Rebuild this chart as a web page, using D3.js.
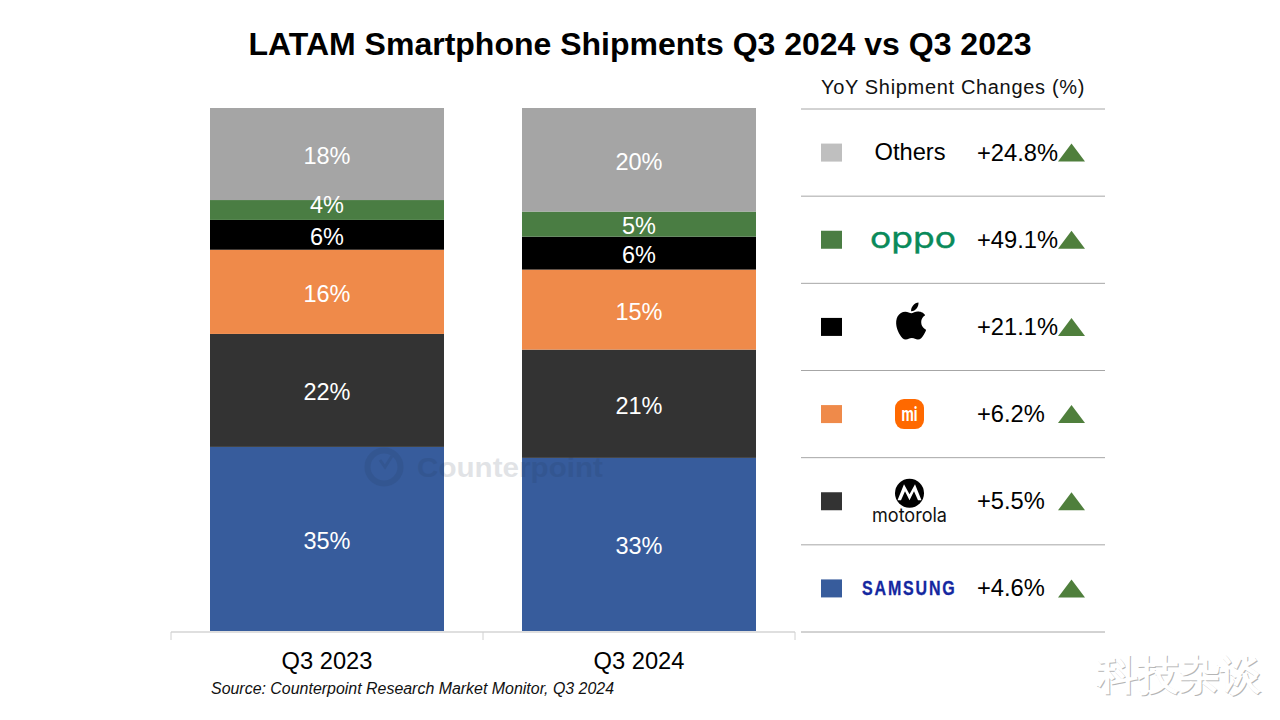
<!DOCTYPE html>
<html>
<head>
<meta charset="utf-8">
<style>
  html, body { margin: 0; background: #fff; }
  svg { display: block; }
  text { font-family: "Liberation Sans", Arial, sans-serif; }
</style>
<script src="https://cdn.jsdelivr.net/npm/d3@7"></script>
</head>
<body>
<svg id="chart" width="1280" height="720"></svg>
<script>
// Data
const quarters = ['Q3 2023', 'Q3 2024'];
const brands = ['Samsung', 'Motorola', 'Xiaomi', 'Apple', 'OPPO', 'Others'];
const share2023 = [35.2, 21.6, 16.1, 5.7, 3.8, 17.6];
const share2024 = [33.1, 20.7, 15.3, 6.3, 4.8, 19.8];
const yoyChanges = ['+4.6%', '+5.5%', '+6.2%', '+21.1%', '+49.1%', '+24.8%'];
const barColors = ['#375C9C', '#333333', '#EF8A4A', '#000000', '#4A7D43', '#A5A5A5'];
const swatchColors = ['#375C9C', '#333333', '#EF8A4A', '#000000', '#4A7D43', '#BFBFBF'];

// Configs
const upColor = '#4F7F3C';
const ruleColor = '#A6A6A6';
const plotTop = 108, plotBottom = 631;
const tableLeft = 801, tableRight = 1105, tableTop = 109, tableBottom = 632;

const svg = d3.select('#chart');

const rows = quarters.map((q, i) => {
  const row = { quarter: q };
  const values = i === 0 ? share2023 : share2024;
  brands.forEach((b, j) => { row[b] = values[j]; });
  return row;
});
const series = d3.stack().keys(brands)(rows);

const x = d3.scaleBand()
  .domain(quarters)
  .range([171, 795])
  .paddingInner(0.25)
  .paddingOuter(0.125);

const y = d3.scaleLinear()
  .domain([0, 100])
  .range([plotBottom, plotTop]);

// Stacked bars
svg.append('g').selectAll('g')
  .data(series)
  .join('g')
  .attr('fill', (d, i) => barColors[i])
  .selectAll('rect')
  .data(d => d)
  .join('rect')
  .attr('x', d => x(d.data.quarter))
  .attr('y', d => y(d[1]))
  .attr('width', x.bandwidth())
  .attr('height', d => y(d[0]) - y(d[1]));

// The thin 4% label sits a little high in the source
const labelShift = (d, key) => (key === 'OPPO' && d.data.quarter === 'Q3 2023') ? -7 : 0;

// Labels go in their own group so the next layer can't paint over them
svg.append('g').selectAll('g')
  .data(series)
  .join('g')
  .each(function(layer) {
    d3.select(this).selectAll('text')
      .data(layer)
      .join('text')
      .attr('x', d => x(d.data.quarter) + x.bandwidth() / 2)
      .attr('y', d => (y(d[0]) + y(d[1])) / 2 + 10 + labelShift(d, layer.key))
      .attr('text-anchor', 'middle')
      .attr('font-size', 23.5)
      .attr('fill', '#fff')
      .text(d => d3.format('.0f')(d[1] - d[0]) + '%');
  });

// Category axis, ticks sit on the band edges
const axis = svg.append('g')
  .attr('transform', `translate(0, ${plotBottom + 1})`)
  .call(d3.axisBottom(x).tickSize(0).tickPadding(20));
axis.select('.domain').attr('stroke', '#BFBFBF').attr('d', 'M171,0H795');
axis.selectAll('.tick text')
  .style('font-family', '"Liberation Sans", Arial, sans-serif')
  .style('font-size', '23.7px')
  .attr('fill', '#000');
axis.selectAll('line.edge')
  .data([171, 171 + x.step(), 171 + 2 * x.step()])
  .join('line')
  .attr('class', 'edge')
  .attr('x1', d => d).attr('x2', d => d)
  .attr('y1', 0).attr('y2', 8)
  .attr('stroke', '#D0D0D0');

// Title and source
svg.append('text')
  .attr('x', 640).attr('y', 55)
  .attr('text-anchor', 'middle')
  .attr('font-size', 32)
  .attr('font-weight', 700)
  .attr('fill', '#000')
  .text('LATAM Smartphone Shipments Q3 2024 vs Q3 2023');

svg.append('text')
  .attr('x', 211).attr('y', 693.5)
  .attr('font-size', 15.95)
  .attr('font-style', 'italic')
  .attr('fill', '#111')
  .text('Source: Counterpoint Research Market Monitor, Q3 2024');

// Counterpoint watermark
const mark = svg.append('g').attr('opacity', 0.13).attr('fill', '#1F2F4A');
mark.append('circle')
  .attr('cx', 384).attr('cy', 467).attr('r', 16.5)
  .attr('fill', 'none').attr('stroke', '#1F2F4A').attr('stroke-width', 6);
mark.append('path').attr('d', 'M380,460L385,467L392,456').attr('fill', 'none')
  .attr('stroke', '#1F2F4A').attr('stroke-width', 3);
mark.append('text')
  .attr('x', 417).attr('y', 477)
  .attr('font-size', 28)
  .attr('font-weight', 700)
  .attr('textLength', 186)
  .attr('lengthAdjust', 'spacingAndGlyphs')
  .text('Counterpoint');

// YoY table
svg.append('text')
  .attr('x', 821).attr('y', 94)
  .attr('font-size', 20)
  .attr('letter-spacing', 0.67)
  .attr('fill', '#111')
  .text('YoY Shipment Changes (%)');

const rowScale = d3.scaleBand()
  .domain(brands.slice().reverse())
  .range([tableTop, tableBottom]);

svg.append('g').selectAll('line')
  .data(rowScale.domain().concat('end'))
  .join('line')
  .attr('x1', tableLeft).attr('x2', tableRight)
  .attr('y1', d => d === 'end' ? tableBottom : rowScale(d))
  .attr('y2', d => d === 'end' ? tableBottom : rowScale(d))
  .attr('stroke', ruleColor);

const tableRows = svg.append('g').selectAll('g')
  .data(brands)
  .join('g')
  .attr('transform', d => `translate(0, ${rowScale(d) + rowScale.bandwidth() / 2})`);

tableRows.append('rect')
  .attr('x', 821).attr('y', -9)
  .attr('width', 21).attr('height', 18)
  .attr('fill', (d, i) => swatchColors[i]);

tableRows.append('text')
  .attr('x', 977).attr('y', 8)
  .attr('font-size', 23.7)
  .attr('fill', '#000')
  .text((d, i) => yoyChanges[i]);

tableRows.append('path')
  .attr('d', 'M1058,9L1071.5,-9L1085,9Z')
  .attr('fill', upColor);

// Brand marks
const logo = name => tableRows.filter(d => d === name);

logo('Others').append('text')
  .attr('x', 910).attr('y', 7)
  .attr('text-anchor', 'middle')
  .attr('font-size', 23.7)
  .attr('fill', '#000')
  .text('Others');

logo('OPPO').append('text')
  .attr('x', 870).attr('y', 8)
  .attr('font-size', 29)
  .attr('textLength', 86)
  .attr('lengthAdjust', 'spacingAndGlyphs')
  .attr('stroke', '#0A8A5A')
  .attr('stroke-width', 0.4)
  .attr('fill', '#0A8A5A')
  .style('font-family', 'Inter, sans-serif')
  .text('oppo');

logo('Apple').append('path')
  .attr('transform', 'translate(889, -28) scale(1.85)')
  .attr('d', 'M18.71 19.5c-.83 1.24-1.71 2.45-3.05 2.47-1.34.03-1.77-.79-3.29-.79-1.53 0-2 .77-3.27.82-1.31.05-2.3-1.32-3.14-2.53C4.25 17 2.94 12.45 4.7 9.39c.87-1.52 2.43-2.48 4.12-2.51 1.28-.02 2.5.87 3.29.87.78 0 2.26-1.07 3.81-.91.65.03 2.47.26 3.64 1.98-.09.06-2.17 1.28-2.15 3.81.03 3.02 2.65 4.03 2.68 4.04-.03.07-.42 1.44-1.38 2.83M13 3.5c.73-.83 1.94-1.46 2.94-1.5.13 1.17-.34 2.35-1.04 3.19-.69.85-1.83 1.51-2.95 1.42-.15-1.15.41-2.35 1.05-3.11z')
  .attr('fill', '#000');

logo('Xiaomi').append('rect')
  .attr('x', 895).attr('y', -15)
  .attr('width', 29).attr('height', 30).attr('rx', 9)
  .attr('fill', '#FF6900');
logo('Xiaomi').append('text')
  .attr('x', 901.5).attr('y', 7)
  .attr('font-size', 21)
  .attr('font-weight', 700)
  .attr('textLength', 16)
  .attr('lengthAdjust', 'spacingAndGlyphs')
  .attr('fill', '#fff')
  .style('font-family', 'Roboto, sans-serif')
  .text('mi');

logo('Motorola').append('circle')
  .attr('cx', 909.5).attr('cy', -8).attr('r', 14.5)
  .attr('fill', '#000');
logo('Motorola').append('path')
  .attr('d', 'M897.5,-1L904,-17L909.5,-7L915,-17L921.5,-1L918,-1L914,-10L909.5,-1L905,-10L901,-1Z')
  .attr('fill', '#fff');
logo('Motorola').append('text')
  .attr('x', 872).attr('y', 21)
  .attr('font-size', 20)
  .attr('textLength', 75)
  .attr('lengthAdjust', 'spacingAndGlyphs')
  .attr('fill', '#111')
  .style('font-family', 'Inter, sans-serif')
  .text('motorola');

logo('Samsung').append('text')
  .attr('transform', 'translate(862, 7) scale(0.8, 1)')
  .attr('font-size', 20)
  .attr('font-weight', 700)
  .attr('letter-spacing', 2.3)
  .attr('stroke', '#1428A0')
  .attr('stroke-width', 0.3)
  .attr('fill', '#1428A0')
  .text('SAMSUNG');

// Corner stamp, white with a soft gray edge
const stamp = svg.append('g')
  .attr('font-size', 41)
  .style('font-family', '"Noto Sans CJK SC", sans-serif');
stamp.append('text')
  .attr('x', 1098).attr('y', 690)
  .attr('font-weight', 700)
  .attr('fill', '#B5B5B5')
  .text('科技杂谈');
stamp.append('text')
  .attr('x', 1097).attr('y', 689)
  .attr('font-weight', 700)
  .attr('fill', '#fff')
  .text('科技杂谈');
</script>
</body>
</html>
